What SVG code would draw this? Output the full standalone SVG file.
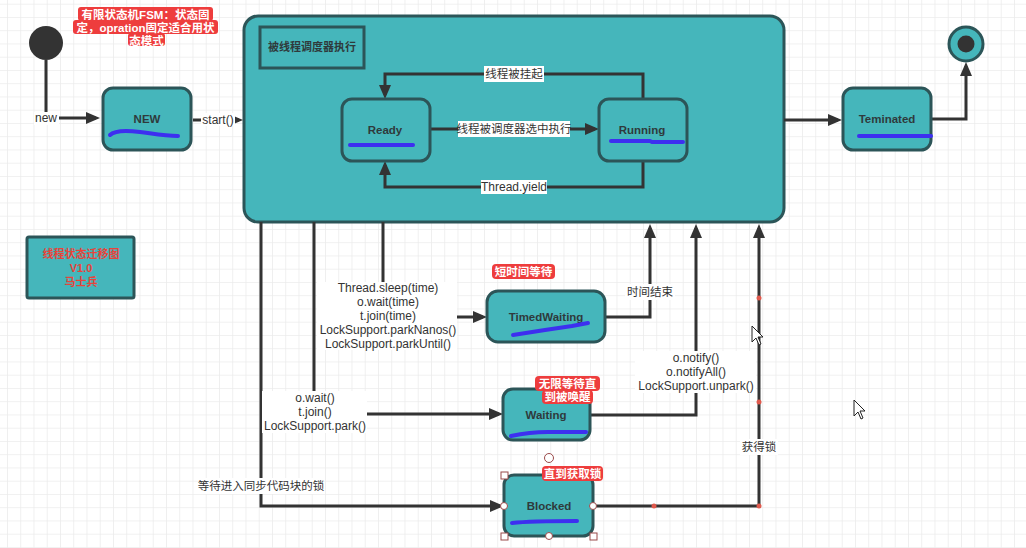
<svg xmlns="http://www.w3.org/2000/svg" width="1026" height="548" viewBox="0 0 1026 548">
<defs>
<pattern id="grid" x="7" y="3.7" width="13.25" height="13.25" patternUnits="userSpaceOnUse">
<path d="M0 0 H13.25 M0 0 V13.25" fill="none" stroke="#ebebeb" stroke-width="1.5"/>
</pattern>
<marker id="ah" viewBox="0 0 14 12" refX="10" refY="6" markerWidth="14" markerHeight="12" markerUnits="userSpaceOnUse" orient="auto">
<path d="M0,0 L14,6 L0,12 z" fill="#333"/>
</marker>
<style>
.node{fill:#45b6bb;stroke:#2c5558;stroke-width:3}
.nt{font-family:"Liberation Sans","Noto Sans CJK SC",sans-serif;font-size:11.5px;font-weight:bold;fill:#2f3a3c;text-anchor:middle}
.lb{font-family:"Liberation Sans","Noto Sans CJK SC",sans-serif;font-size:12px;fill:#333;text-anchor:middle}
.cj{font-family:"Noto Sans CJK SC","Liberation Sans",sans-serif;font-size:11.5px;fill:#333;text-anchor:middle}
.bg{fill:#fff}
.conn{fill:none;stroke:#333;stroke-width:3}
.blue{fill:none;stroke:#3d2ff0;stroke-width:4;stroke-linecap:round;stroke-linejoin:round}
.rbg{fill:#ee3d3d}
.rt{font-family:"Liberation Sans","Noto Sans CJK SC",sans-serif;font-size:11.5px;font-weight:bold;fill:#fff;text-anchor:middle}
.leg{font-family:"Liberation Sans","Noto Sans CJK SC",sans-serif;font-size:11px;font-weight:bold;fill:#e8433a;text-anchor:middle}
.dot{fill:#e05a4e}
.hd{fill:#fff;stroke:#9a4a4a;stroke-width:1}
</style>
</defs>
<rect width="1026" height="548" fill="#fff"/>
<rect width="1026" height="548" fill="url(#grid)"/>

<g id="container">
<rect x="244" y="16" width="540" height="206" rx="14" class="node"/>
<rect x="260" y="27" width="104" height="41" fill="none" stroke="#2c5558" stroke-width="3"/>
<text x="312" y="51" class="cj" style="font-weight:bold;fill:#2f3a3c;font-size:11px">被线程调度器执行</text>
</g>

<g id="connectors">
<path class="conn" d="M46 60 V118 H96" marker-end="url(#ah)"/>
<path class="conn" d="M193 120 H239" marker-end="url(#ah)"/>
<path class="conn" d="M430 129 H595" marker-end="url(#ah)"/>
<path class="conn" d="M643 99 V74 H385 V95" marker-end="url(#ah)"/>
<path class="conn" d="M643 161 V187 H385 V165" marker-end="url(#ah)"/>
<path class="conn" d="M784 120 H838" marker-end="url(#ah)"/>
<path class="conn" d="M932 119 H966 V66" marker-end="url(#ah)"/>
<path class="conn" d="M261 222 V506 H500" marker-end="url(#ah)"/>
<path class="conn" d="M314 222 V414 H499" marker-end="url(#ah)"/>
<path class="conn" d="M383 222 V317 H483" marker-end="url(#ah)"/>
<path class="conn" d="M605 317 H650 V228" marker-end="url(#ah)"/>
<path class="conn" d="M590 415 H696 V228" marker-end="url(#ah)"/>
<path class="conn" d="M593 506 H759 V228" marker-end="url(#ah)"/>

<rect class="bg" x="34" y="112" width="25" height="13"/>
<text class="lb" x="46" y="122">new</text>
<rect class="bg" x="201" y="113" width="34" height="13"/>
<text class="lb" x="218" y="124">start()</text>
<rect class="bg" x="484" y="66" width="60" height="16"/>
<text class="cj" x="514" y="78">线程被挂起</text>
<rect class="bg" x="458" y="121" width="112" height="16"/>
<text class="cj" x="514" y="133">线程被调度器选中执行</text>
<rect class="bg" x="481" y="180" width="66" height="14"/>
<text class="lb" x="514" y="191">Thread.yield</text>

<rect class="bg" x="317" y="282" width="140" height="68"/>
<text class="lb" x="388" y="292">Thread.sleep(time)</text>
<text class="lb" x="388" y="306">o.wait(time)</text>
<text class="lb" x="388" y="320">t.join(time)</text>
<text class="lb" x="388" y="334">LockSupport.parkNanos()</text>
<text class="lb" x="388" y="348">LockSupport.parkUntil()</text>

<rect class="bg" x="262" y="391" width="105" height="42"/>
<text class="lb" x="315" y="402">o.wait()</text>
<text class="lb" x="315" y="416">t.join()</text>
<text class="lb" x="315" y="430">LockSupport.park()</text>

<rect class="bg" x="635" y="351" width="121" height="42"/>
<text class="lb" x="696" y="362">o.notify()</text>
<text class="lb" x="696" y="376">o.notifyAll()</text>
<text class="lb" x="696" y="390">LockSupport.unpark()</text>

<rect class="bg" x="625" y="284" width="50" height="16"/>
<text class="cj" x="650" y="296">时间结束</text>
<rect class="bg" x="740" y="439" width="38" height="16"/>
<text class="cj" x="759" y="451">获得锁</text>
<rect class="bg" x="199" y="478" width="124" height="16"/>
<text class="cj" x="261" y="490">等待进入同步代码块的锁</text>

<circle class="dot" cx="654" cy="506" r="2.5"/>
<circle class="dot" cx="759" cy="506" r="2.5"/>
<circle class="dot" cx="759" cy="402" r="2.5"/>
<circle class="dot" cx="759" cy="298" r="2.5"/>
</g>

<g id="start">
<circle cx="46" cy="43" r="17" fill="#333"/>
</g>

<g id="end">
<circle cx="966" cy="44" r="17" fill="#45b6bb" stroke="#2c5558" stroke-width="3"/>
<circle cx="966" cy="44" r="8.5" fill="#333"/>
</g>

<g id="fsm-note">
<rect class="rbg" x="78" y="7" width="135" height="14" rx="3"/>
<rect class="rbg" x="73" y="20" width="145" height="14" rx="3"/>
<rect class="rbg" x="128" y="33" width="37" height="13" rx="3"/>
<text class="rt" x="145.5" y="18.5">有限状态机FSM：状态固</text>
<text class="rt" x="145.5" y="31.5">定，opration固定适合用状</text>
<text class="rt" x="146.5" y="44.5">态模式</text>
</g>

<g id="new">
<rect x="103" y="88" width="88" height="62" rx="10" class="node"/>
<text class="nt" x="147" y="123">NEW</text>
<path class="blue" d="M110 135 C114 131 125 130 140 132 S165 136 178 136"/>
</g>

<g id="ready">
<rect x="342" y="99" width="88" height="62" rx="10" class="node"/>
<text class="nt" x="385" y="134">Ready</text>
<path class="blue" d="M350 145 H413"/>
</g>

<g id="running">
<rect x="599" y="99" width="88" height="62" rx="10" class="node"/>
<text class="nt" x="642" y="134">Running</text>
<path class="blue" d="M611 141 H650 L652 142 H683"/>
</g>

<g id="teminated">
<rect x="843" y="88" width="88" height="62" rx="10" class="node"/>
<text class="nt" x="887" y="123">Teminated</text>
<path class="blue" d="M859 136 H931"/>
</g>

<g id="legend">
<rect x="27" y="237" width="107" height="61" rx="2" class="node"/>
<text class="leg" x="81" y="258">线程状态迁移图</text>
<text class="leg" x="81" y="272">V1.0</text>
<text class="leg" x="81" y="286">马士兵</text>
</g>

<g id="timedwaiting">
<rect x="487" y="291" width="118" height="51" rx="11" class="node"/>
<text class="nt" x="546" y="321">TimedWaiting</text>
<path class="blue" d="M513 335 L545 330 L572 326 L588 323"/>
<rect class="rbg" x="492" y="264" width="63" height="15" rx="4"/>
<text class="rt" x="523.5" y="276">短时间等待</text>
</g>

<g id="waiting">
<rect x="503" y="389" width="87" height="51" rx="10" class="node"/>
<text class="nt" x="546" y="419">Waiting</text>
<path class="blue" d="M511 436 C525 433 535 432 548 432 L586 432"/>
<rect class="rbg" x="535" y="376" width="65" height="15" rx="4"/>
<rect class="rbg" x="542" y="390" width="51" height="14" rx="4"/>
<text class="rt" x="567.5" y="387.5">无限等待直</text>
<text class="rt" x="567.5" y="401">到被唤醒</text>
</g>

<g id="blocked">
<rect x="504" y="475" width="89" height="61" rx="10" class="node"/>
<text class="nt" x="549" y="510">Blocked</text>
<path class="blue" d="M512 523 C530 521 550 521 577 521"/>
<rect class="rbg" x="542" y="466" width="61" height="15" rx="4"/>
<text class="rt" x="572.5" y="478">直到获取锁</text>
<circle class="hd" cx="549" cy="458" r="4.5"/>
<rect class="hd" x="501" y="472" width="7" height="7"/>
<rect class="hd" x="501" y="533" width="7" height="7"/>
<rect class="hd" x="590" y="533" width="7" height="7"/>
<circle class="hd" cx="504" cy="506" r="3.5"/>
<circle class="hd" cx="593" cy="506" r="3.5"/>
<circle class="hd" cx="549" cy="536" r="3.5"/>
</g>

<g id="cursors">
<path d="M752 326 L752 342 L756 338 L759 345 L761 344 L758 337 L763 337 Z" fill="#fff" stroke="#222" stroke-width="1"/>
<path d="M854 400 L854 416 L858 412 L861 419 L863 418 L860 411 L865 411 Z" fill="#fff" stroke="#222" stroke-width="1"/>
</g>
</svg>
